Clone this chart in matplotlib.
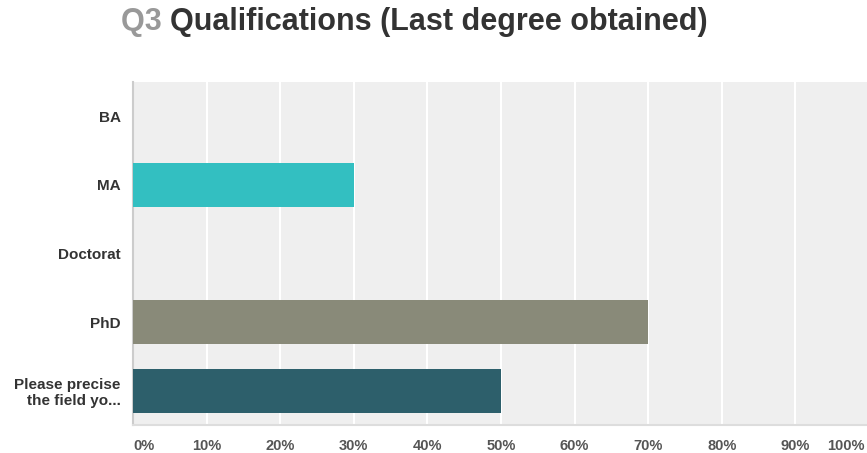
import matplotlib.pyplot as plt

# Survey answers (share of respondents, %)
categories = ['BA', 'MA', 'Doctorat', 'PhD', 'Please precise\nthe field yo...']
values = [0, 30, 0, 70, 50]
colors = ['#33bfc1', '#33bfc1', '#898a79', '#898a79', '#2d5f6b']
ticks = [0, 10, 20, 30, 40, 50, 60, 70, 80, 90, 100]
tick_labels = [f'{t}%' for t in ticks]

plt.rcParams['font.family'] = ['Liberation Sans', 'DejaVu Sans']

fig = plt.figure(figsize=(8.67, 4.53), dpi=100)
W, H = 867, 453
left, right, top, bottom = 133, 869, 82, 425
ax = fig.add_axes([left / W, 1 - bottom / H, (right - left) / W, (bottom - top) / H])
ax.set_facecolor('#efefef')

ypos = list(range(len(categories)))
ax.barh(ypos, values, height=0.64, color=colors, zorder=3)
ax.set_ylim(len(categories) - 0.5, -0.5)
ax.set_xlim(0, 100)

# the last label sits inside the figure edge, so draw it on its own
ax.set_xticks(ticks)
ax.set_xticklabels(tick_labels[:-1] + [''], fontsize=10.5, fontweight='bold', color='#555555')
ax.get_xticklabels()[0].set_ha('left')
ax.annotate(tick_labels[-1], xy=(ticks[-1], 0), xycoords=('data', 'axes fraction'),
            xytext=(-4, -14), textcoords='offset pixels', ha='right', va='top',
            fontsize=10.5, fontweight='bold', color='#555555', annotation_clip=False)
ax.set_yticks(ypos)
ax.set_yticklabels(categories, fontsize=11, fontweight='bold', color='#333333')
ax.tick_params(axis='both', length=0)
ax.tick_params(axis='x', pad=10)
ax.tick_params(axis='y', pad=9)

ax.grid(axis='x', color='white', linewidth=1.5, zorder=1)
for side in ['top', 'right']:
    ax.spines[side].set_visible(False)
ax.spines['left'].set_color('#cccccc')
ax.spines['left'].set_linewidth(1.5)
ax.spines['bottom'].set_color('#dddddd')
ax.spines['bottom'].set_linewidth(1.5)

t1 = fig.text(121 / W, 1 - 30 / H, 'Q3 ', fontsize=22, fontweight='bold', color='#999999')
fig.canvas.draw()
ax.annotate('Qualifications (Last degree obtained)', xy=(1, 0), xycoords=t1,
            fontsize=22, fontweight='bold', color='#333333', va='bottom')

plt.savefig('out.png', dpi=100)
